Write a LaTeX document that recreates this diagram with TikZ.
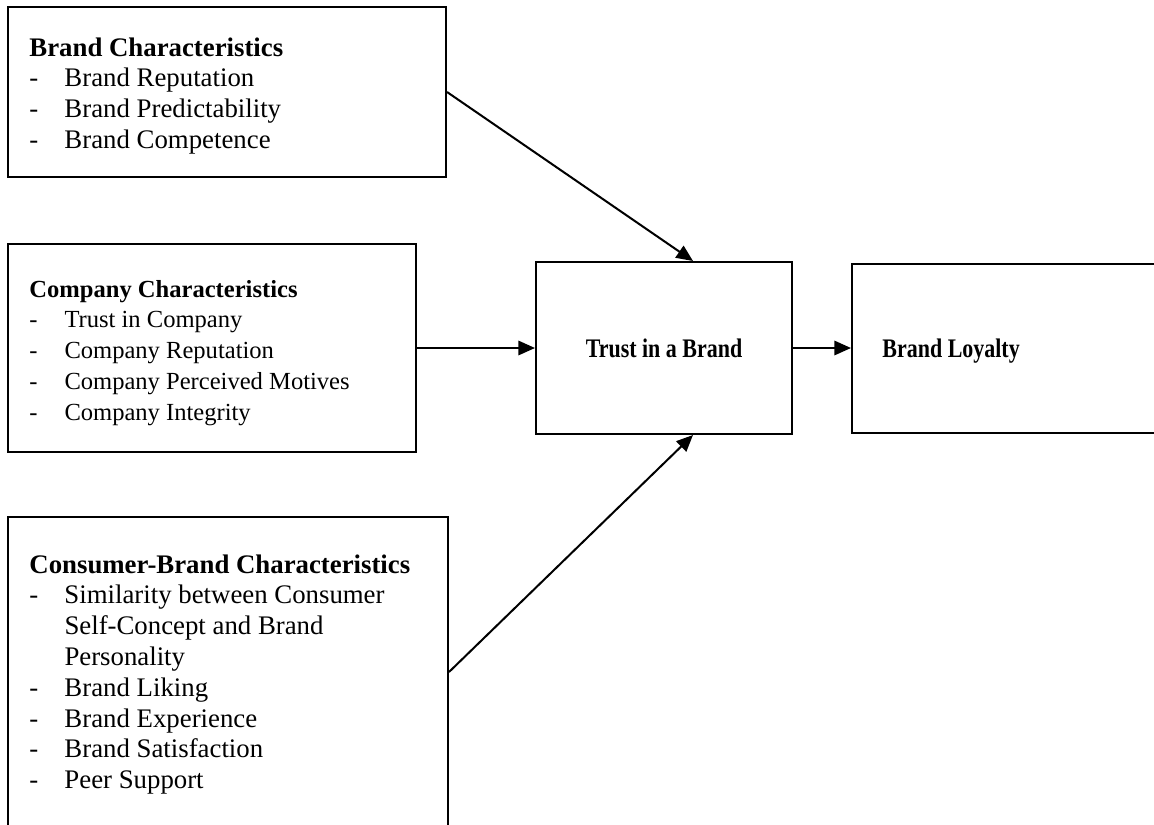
\documentclass[tikz,border=0pt]{standalone}
\usepackage{fontspec}
\setmainfont{Liberation Serif}
\newfontfamily\narrowserif[FakeStretch=0.82]{Liberation Serif}
\usetikzlibrary{arrows.meta}

% one drawing unit = one pixel of the layout grid
\def\unit{0.4478pt}
\newcommand{\bul}{\makebox[15.7pt][l]{-}}

\tikzset{
  framebox/.style={draw=black, line width=0.9pt, rectangle, inner sep=0pt},
  listtext/.style={anchor=base west, inner sep=0pt, font=\fontsize{12}{13.8}\selectfont},
  headtext/.style={inner sep=0pt, font=\narrowserif\fontsize{12}{13.8}\selectfont\bfseries},
  link/.style={line width=0.9pt, -{Triangle[length=7.4pt,width=6.4pt]}},
}

\begin{document}
\begin{tikzpicture}[x=\unit, y=-\unit]
  \useasboundingbox (0,0) rectangle (1154,824);
  \clip (0,0) rectangle (1154,824);

  % left-hand groups of antecedents
  \node[framebox, minimum width=438*\unit, minimum height=170*\unit] (brand) at (227,92) {};
  \node[framebox, minimum width=408*\unit, minimum height=208*\unit] (company) at (212,348) {};
  \node[framebox, minimum width=440*\unit, minimum height=310*\unit] (consumer) at (228,672) {};

  % central construct and outcome
  \node[framebox, minimum width=256*\unit, minimum height=172*\unit] (trust) at (664,348) {};
  \node[framebox, minimum width=310*\unit, minimum height=169*\unit] (loyalty) at (1007,348) {};

  % box contents
  \node[listtext] (brandtxt) at (29,56) {\begin{tabular}[t]{@{}l@{}}
    \textbf{Brand Characteristics}\\
    \bul Brand Reputation\\
    \bul Brand Predictability\\
    \bul Brand Competence
  \end{tabular}};
  \node[listtext, font=\fontsize{11}{13.8}\selectfont] (companytxt) at (29,297) {\begin{tabular}[t]{@{}l@{}}
    \textbf{Company Characteristics}\\
    \bul Trust in Company\\
    \bul Company Reputation\\
    \bul Company Perceived Motives\\
    \bul Company Integrity
  \end{tabular}};
  \node[listtext] (consumertxt) at (29,573) {\begin{tabular}[t]{@{}l@{}}
    \textbf{Consumer-Brand Characteristics}\\
    \bul Similarity between Consumer\\
    \hspace{15.7pt}Self-Concept and Brand\\
    \hspace{15.7pt}Personality\\
    \bul Brand Liking\\
    \bul Brand Experience\\
    \bul Brand Satisfaction\\
    \bul Peer Support
  \end{tabular}};
  \node[headtext, anchor=base] (trusttxt) at (664,357) {Trust in a Brand};
  \node[headtext, anchor=base west] (loyaltytxt) at (882,357) {Brand Loyalty};

  % causal paths
  \draw[link] (brand.east) -- ([xshift=29*\unit]trust.north);
  \draw[link] (company.east) -- (trust.west);
  \draw[link] (consumer.east) -- ([xshift=29*\unit]trust.south);
  \draw[link] (trust.east) -- (loyalty.west);
\end{tikzpicture}
\end{document}
